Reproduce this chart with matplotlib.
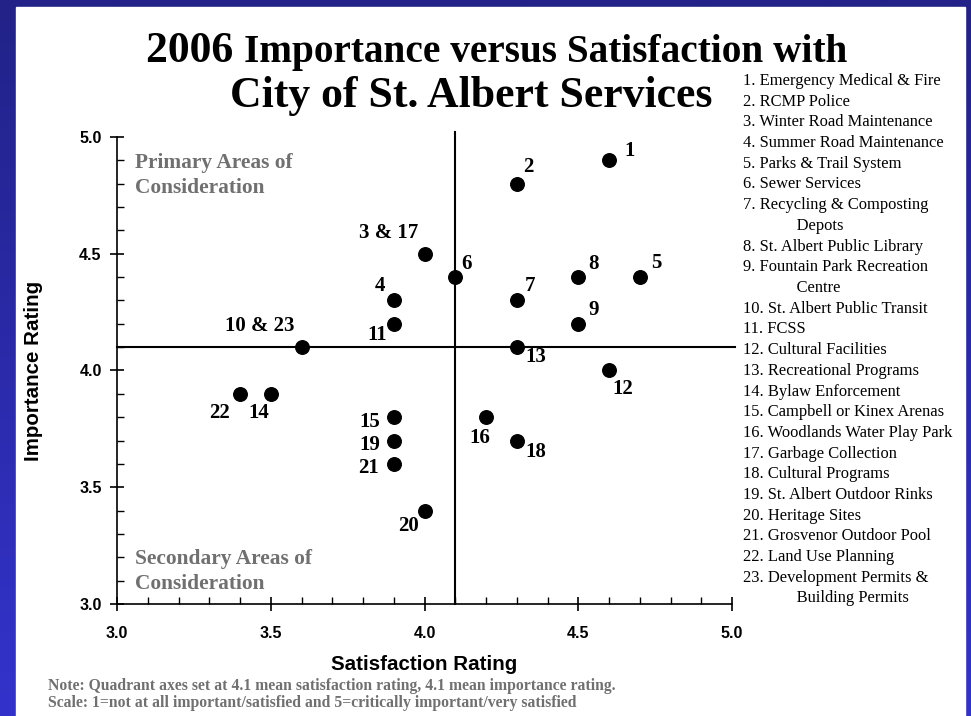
import numpy as np
import matplotlib.pyplot as plt
from matplotlib.patches import Rectangle
from matplotlib.ticker import MultipleLocator

# service ratings
labels = ['1', '2', '3 & 17', '4', '5', '6', '7', '8', '9', '10 & 23', '11',
          '12', '13', '14', '15', '16', '18', '19', '20', '21', '22']
satisfaction = [4.6, 4.3, 4.0, 3.9, 4.7, 4.1, 4.3, 4.5, 4.5, 3.6, 3.9,
                4.6, 4.3, 3.5, 3.9, 4.2, 4.3, 3.9, 4.0, 3.9, 3.4]
importance = [4.9, 4.8, 4.5, 4.3, 4.4, 4.4, 4.3, 4.4, 4.2, 4.1, 4.2,
              4.0, 4.1, 3.9, 3.8, 3.8, 3.7, 3.7, 3.4, 3.6, 3.9]
# label offsets in pixels (dx, dy up)
offsets = [(21, 9), (12, 17), (-36, 21), (-14, 14), (17, 14), (11, 13), (13, 14),
           (15, 13), (15, 14), (-42, 21), (-17, -11), (14, -19), (19, -10),
           (-12, -19), (-24, -5), (-6, -21), (19, -11), (-24, -4), (-16, -15),
           (-25, -4), (-21, -19)]

services = ['1. Emergency Medical & Fire', '2. RCMP Police', '3. Winter Road Maintenance',
            '4. Summer Road Maintenance', '5. Parks & Trail System', '6. Sewer Services',
            '7. Recycling & Composting', '             Depots', '8. St. Albert Public Library',
            '9. Fountain Park Recreation', '             Centre', '10. St. Albert Public Transit',
            '11. FCSS', '12. Cultural Facilities', '13. Recreational Programs',
            '14. Bylaw Enforcement', '15. Campbell or Kinex Arenas',
            '16. Woodlands Water Play Park', '17. Garbage Collection',
            '18. Cultural Programs', '19. St. Albert Outdoor Rinks', '20. Heritage Sites',
            '21. Grosvenor Outdoor Pool', '22. Land Use Planning',
            '23. Development Permits &', '             Building Permits']

sat_mean, imp_mean = 4.1, 4.1

W, H = 971, 716
fig = plt.figure(figsize=(W / 100, H / 100), dpi=100)

# blue gradient frame + white slide
bg = fig.add_axes([0, 0, 1, 1], zorder=-10)
grad = np.linspace(0, 1, 256).reshape(-1, 1)
top = np.array([0x22, 0x22, 0x88]) / 255
bot = np.array([0x33, 0x33, 0xcc]) / 255
img = top + grad[..., None] * (bot - top)
bg.imshow(img, aspect='auto', extent=[0, 1, 0, 1], origin='upper')
bg.add_patch(Rectangle((16 / W, 0), (965 - 16) / W, (H - 7) / H, color='white'))
bg.set_xlim(0, 1)
bg.set_ylim(0, 1)
bg.axis('off')

serif = 'Liberation Serif'
sans = 'Liberation Sans'

ax = fig.add_axes([117 / W, 1 - 604 / H, (732 - 117) / W, (604 - 137) / H])
ax.set_facecolor('none')
ax.set_xlim(3.0, 5.0)
ax.set_ylim(3.0, 5.0)
for s in ['top', 'right']:
    ax.spines[s].set_visible(False)
for s in ['left', 'bottom']:
    ax.spines[s].set_linewidth(1.2)
ax.xaxis.set_major_locator(MultipleLocator(0.5))
ax.yaxis.set_major_locator(MultipleLocator(0.5))
ax.xaxis.set_minor_locator(MultipleLocator(0.1))
ax.yaxis.set_minor_locator(MultipleLocator(0.1))
ax.tick_params(which='major', direction='inout', length=10, width=1.2, pad=11)
ax.tick_params(which='minor', direction='in', length=5, width=1.0)
ax.tick_params(axis='y', which='major', pad=6)
ax.xaxis.set_major_formatter(lambda v, p: f'{v:.1f}')
ax.yaxis.set_major_formatter(lambda v, p: f'{v:.1f}')
for t in ax.get_xticklabels() + ax.get_yticklabels():
    t.set_fontfamily(sans)
    t.set_fontweight('bold')
    t.set_fontsize(11.5)

ax.axvline(sat_mean, ymin=0, ymax=1.01, color='black', lw=1.5, clip_on=False)
ax.axhline(imp_mean, xmin=0, xmax=1.005, color='black', lw=1.5, clip_on=False)

ax.scatter(satisfaction, importance, s=95, color='black', zorder=3, clip_on=False)
for lab, x, y, (dx, dy) in zip(labels, satisfaction, importance, offsets):
    ax.annotate(lab, (x, y), xytext=(dx * 0.72, dy * 0.72), textcoords='offset points',
                ha='center', va='center', fontfamily=serif, fontweight='bold',
                fontsize=15)

ax.text(0.03, 0.965, 'Primary Areas of\nConsideration', transform=ax.transAxes,
        ha='left', va='top', fontfamily=serif, fontweight='bold', fontsize=15.4,
        color='#707070', linespacing=1.3)
ax.text(0.03, 0.022, 'Secondary Areas of\nConsideration', transform=ax.transAxes,
        ha='left', va='bottom', fontfamily=serif, fontweight='bold', fontsize=15.4,
        color='#707070', linespacing=1.3)

ax.set_xlabel('Satisfaction Rating', fontfamily=sans, fontweight='bold', fontsize=14.8,
              labelpad=10)
ax.set_ylabel('Importance Rating', fontfamily=sans, fontweight='bold', fontsize=14.8,
              labelpad=26)

# title: "2006" is set a little larger than the rest of the first line
r = fig.canvas.get_renderer()
t_year = fig.text(0, 1 - 62 / H, '2006 ', ha='left', va='baseline',
                  fontfamily=serif, fontweight='bold', fontsize=31.5)
t_rest = fig.text(0, 1 - 62 / H, 'Importance versus Satisfaction with', ha='left',
                  va='baseline', fontfamily=serif, fontweight='bold', fontsize=28.3)
w1 = t_year.get_window_extent(r).width
w2 = t_rest.get_window_extent(r).width
x0 = 497 - (w1 + w2) / 2
t_year.set_x(x0 / W)
t_rest.set_x((x0 + w1) / W)
fig.text(471 / W, 1 - 107 / H, 'City of St. Albert Services', ha='center',
         va='baseline', fontfamily=serif, fontweight='bold', fontsize=31.5)

for i, s in enumerate(services):
    fig.text(743 / W, 1 - (81 + i * 20.7) / H, s, ha='left', va='center',
             fontfamily=serif, fontsize=11.9)

fig.text(48 / W, 1 - 686 / H,
         'Note: Quadrant axes set at 4.1 mean satisfaction rating, 4.1 mean importance rating.',
         ha='left', va='center', fontfamily=serif, fontweight='bold', fontsize=11.3,
         color='#707070')
fig.text(48 / W, 1 - 703 / H,
         'Scale: 1=not at all important/satisfied and 5=critically important/very satisfied',
         ha='left', va='center', fontfamily=serif, fontweight='bold', fontsize=11.3,
         color='#707070')

fig.savefig('out.png', dpi=100)
